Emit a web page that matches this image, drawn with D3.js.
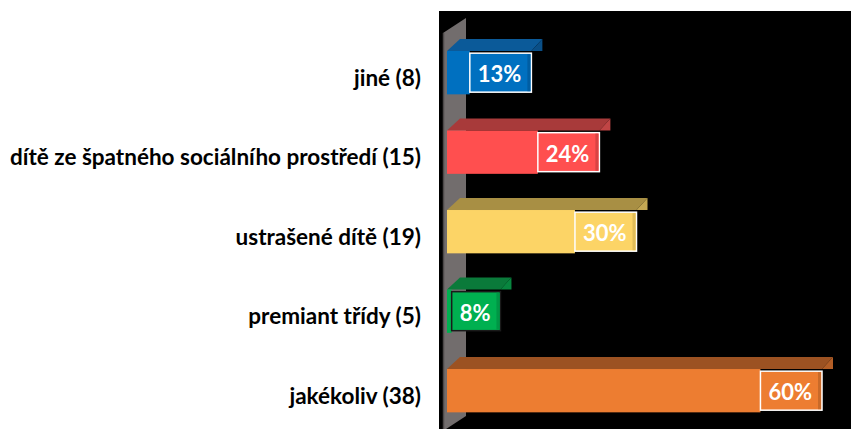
<!DOCTYPE html>
<html>
<head>
<meta charset="utf-8">
<script src="https://cdn.jsdelivr.net/npm/d3@7"></script>
<style>
  html, body { margin: 0; padding: 0; background: #ffffff; }
  svg { display: block; }
</style>
</head>
<body>
<svg id="chart" width="851" height="429"></svg>
<script>
// ---- data ----
const categories = [
  "jiné (8)",
  "dítě ze špatného sociálního prostředí (15)",
  "ustrašené dítě (19)",
  "premiant třídy (5)",
  "jakékoliv (38)"
];
const values = [13, 24, 30, 8, 60];
const valueLabels = ["13%", "24%", "30%", "8%", "60%"];

// ---- styles ----
const frontColors = ["#0070C0", "#FF4F4F", "#FCD466", "#00B050", "#ED7D31"];
const topColors   = ["#0B5A99", "#A83A3A", "#A88F44", "#0A7A3A", "#9C5222"];
const sideColors  = ["#0A4F87", "#C04545", "#C4A853", "#08863F", "#B35E26"];
const stripColors = ["#005EA3", "#D94343", "#E0BC59", "#009645", "#C96A29"];
const boxStroke   = ["#ffffff", "#ffffff", "#ffffff", "#1a1a1a", "#ffffff"];

const svg = d3.select("#chart");
const W = 851, H = 429;

const x = d3.scaleLinear().domain([0, 60]).range([451, 822]);
const y = d3.scaleBand().domain(categories).range([11.25, 452.1])
  .paddingInner(0.455).paddingOuter(0.5);

const dxR = 11, dxL = 13, dz = 12;

// plot background
svg.append("rect").attr("x", 439).attr("y", 11).attr("width", W - 439).attr("height", H - 11)
  .attr("fill", "#000000");

// side wall
svg.append("polygon")
  .attr("points", [[443, 33], [466, 18], [466, 416], [443, 431]].map(p => p.join(",")).join(" "))
  .attr("fill", "#726d6d");
svg.append("line").attr("x1", 443.5).attr("x2", 443.5).attr("y1", 33).attr("y2", 431)
  .attr("stroke", "#4d4949").attr("stroke-width", 1.5);

// category axis
const axis = d3.axisLeft(y).tickSize(0).tickPadding(3);
const ag = svg.append("g").attr("transform", "translate(424,6)").call(axis);
ag.select(".domain").remove();
ag.selectAll("text")
  .attr("font-family", "Lato, 'Open Sans', sans-serif")
  .attr("font-weight", "bold")
  .attr("font-size", "22.5px")
  .attr("fill", "#000");

// bars
const g = svg.append("g");
const x0 = x(0) - 4;

categories.forEach((c, i) => {
  const v = values[i];
  const top = y(c), bh = y.bandwidth();
  const xe = x(v);
  const bar = g.append("g");

  // top face
  bar.append("polygon")
    .attr("points", [[x0, top], [x0 + dxL, top - dz], [xe + dxR, top - dz], [xe, top]]
      .map(p => p.join(",")).join(" "))
    .attr("fill", topColors[i]);
  // visible side triangle
  bar.append("polygon")
    .attr("points", [[xe, top], [xe + dxR, top - dz], [xe + dxR, top]]
      .map(p => p.join(",")).join(" "))
    .attr("fill", sideColors[i]);

  // label measure
  const t = bar.append("text")
    .attr("font-family", "Lato, 'Open Sans', sans-serif")
    .attr("font-weight", "bold")
    .attr("font-size", "22px")
    .attr("fill", "#ffffff")
    .attr("text-anchor", "middle")
    .attr("dominant-baseline", "central")
    .text(valueLabels[i]);
  const tw = t.node().getComputedTextLength();
  const bw = tw + 18, bxh = 39;
  const bx = xe - bw, by = top + bh / 2 - bxh / 2;

  // front face up to label box
  bar.insert("rect", "text")
    .attr("x", x0).attr("y", top).attr("width", Math.max(0, bx - x0)).attr("height", bh)
    .attr("fill", frontColors[i]);

  // label box
  bar.insert("rect", "text")
    .attr("x", bx).attr("y", by).attr("width", bw).attr("height", bxh)
    .attr("fill", frontColors[i]).attr("stroke", boxStroke[i]).attr("stroke-width", 1.5);
  bar.insert("rect", "text")
    .attr("x", xe - 4).attr("y", by + 1).attr("width", 3).attr("height", bxh - 2)
    .attr("fill", stripColors[i]);

  t.attr("x", bx + bw / 2 - 1).attr("y", by + bxh / 2 + 1);
});
</script>
</body>
</html>
